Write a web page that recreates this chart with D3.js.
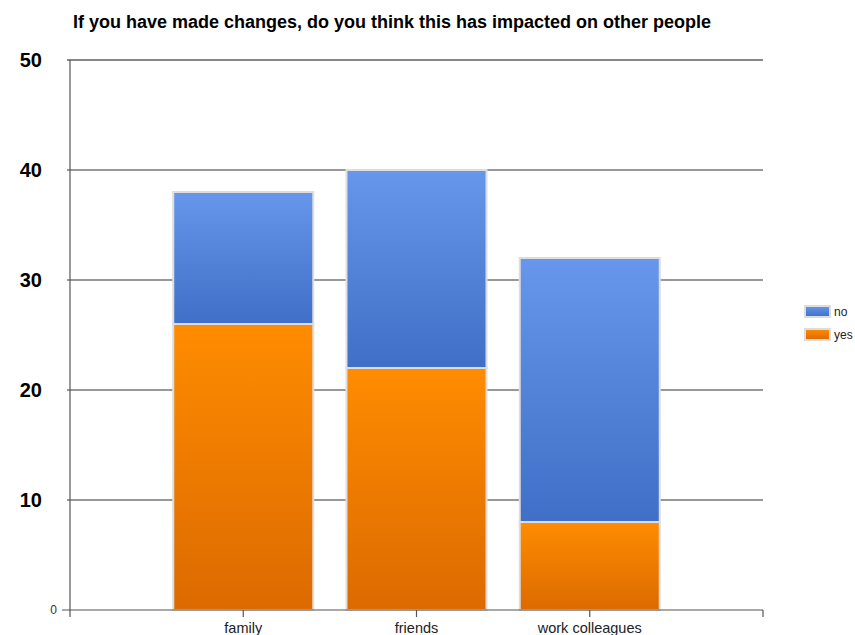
<!DOCTYPE html>
<html>
<head>
<meta charset="utf-8">
<script src="https://cdn.jsdelivr.net/npm/d3@7"></script>
<style>
  body { margin: 0; background: #fff; font-family: "Liberation Sans", Arial, sans-serif; }
</style>
</head>
<body>
<svg id="chart" width="855" height="635"></svg>
<script>
  var categories = ['family', 'friends', 'work colleagues'];
  var yesValues = [26, 22, 8];
  var noValues = [12, 18, 24];
  var seriesNames = ['no', 'yes'];
  var yTicks = [0, 10, 20, 30, 40, 50];

  var svg = d3.select('#chart');
  var plotLeft = 70, plotRight = 763, plotTop = 60, plotBottom = 610;

  // gradients for bars
  var defs = svg.append('defs');
  var gBlue = defs.append('linearGradient').attr('id', 'gBlue').attr('x1', 0).attr('y1', 0).attr('x2', 0).attr('y2', 1);
  gBlue.append('stop').attr('offset', '0%').attr('stop-color', '#6797ec');
  gBlue.append('stop').attr('offset', '100%').attr('stop-color', '#3f6fc6');
  var gOrange = defs.append('linearGradient').attr('id', 'gOrange').attr('x1', 0).attr('y1', 0).attr('x2', 0).attr('y2', 1);
  gOrange.append('stop').attr('offset', '0%').attr('stop-color', '#ff8c00');
  gOrange.append('stop').attr('offset', '100%').attr('stop-color', '#dc6a00');

  var y = d3.scaleLinear().domain([0, 50]).range([plotBottom, plotTop]);
  // categories sit on inner points of a 4-band axis
  var x = d3.scaleLinear().domain([0, categories.length + 1]).range([plotLeft, plotRight]);
  var barW = 140;

  // title
  svg.append('text')
    .attr('x', 73).attr('y', 28)
    .attr('font-size', 18).attr('font-weight', 'bold').attr('fill', '#000')
    .text('If you have made changes, do you think this has impacted on other people');

  // grid lines
  svg.append('g').selectAll('line')
    .data(yTicks.filter(d => d > 0))
    .join('line')
    .attr('x1', plotLeft - 3).attr('x2', plotRight)
    .attr('y1', d => y(d)).attr('y2', d => y(d))
    .attr('stroke', d => d === 50 ? '#111' : '#333').attr('stroke-width', 1.2);

  // y labels
  svg.append('g').selectAll('text')
    .data(yTicks)
    .join('text')
    .attr('x', d => d === 0 ? 57 : 42)
    .attr('y', d => y(d))
    .attr('dy', '0.35em')
    .attr('text-anchor', 'end')
    .attr('font-size', d => d === 0 ? 12 : 20)
    .attr('font-weight', d => d === 0 ? 'normal' : 'bold')
    .attr('fill', d => d === 0 ? '#333' : '#000')
    .text(d => d);

  // bars
  var stacks = categories.map((c, i) => ({ cat: c, i: i, yes: yesValues[i], no: noValues[i] }));
  var barG = svg.append('g');
  stacks.forEach(s => {
    var cx = x(s.i + 1);
    barG.append('rect')
      .attr('x', cx - barW / 2).attr('y', y(s.yes + s.no))
      .attr('width', barW).attr('height', y(s.yes) - y(s.yes + s.no))
      .attr('fill', 'url(#gBlue)').attr('stroke', '#ddd').attr('stroke-width', 2);
    barG.append('rect')
      .attr('x', cx - barW / 2).attr('y', y(s.yes))
      .attr('width', barW).attr('height', y(0) - y(s.yes))
      .attr('fill', 'url(#gOrange)').attr('stroke', '#ddd').attr('stroke-width', 2);
  });

  // axes lines
  svg.append('line').attr('x1', plotLeft).attr('x2', plotLeft).attr('y1', plotTop).attr('y2', plotBottom + 7)
    .attr('stroke', '#555').attr('stroke-width', 1.2);
  svg.append('line').attr('x1', plotLeft - 8).attr('x2', plotRight).attr('y1', plotBottom).attr('y2', plotBottom)
    .attr('stroke', '#555').attr('stroke-width', 1.2);
  svg.append('g').selectAll('line')
    .data(d3.range(1, categories.length + 2))
    .join('line')
    .attr('x1', d => x(d)).attr('x2', d => x(d))
    .attr('y1', plotBottom).attr('y2', plotBottom + 7)
    .attr('stroke', '#555').attr('stroke-width', 1.2);

  // x labels
  svg.append('g').selectAll('text')
    .data(categories)
    .join('text')
    .attr('x', (d, i) => x(i + 1))
    .attr('y', 633)
    .attr('text-anchor', 'middle')
    .attr('font-size', 14.5).attr('fill', '#222')
    .text(d => d);

  // legend
  var legend = svg.append('g');
  var legendFills = { no: 'url(#gBlue)', yes: 'url(#gOrange)' };
  seriesNames.forEach((n, i) => {
    var ly = 306 + i * 23;
    legend.append('rect')
      .attr('x', 805).attr('y', ly).attr('width', 25).attr('height', 11)
      .attr('fill', legendFills[n]).attr('stroke', '#ddd').attr('stroke-width', 2);
    legend.append('text')
      .attr('x', 834).attr('y', ly + 10)
      .attr('font-size', 12).attr('fill', '#222')
      .text(n);
  });
</script>
</body>
</html>
